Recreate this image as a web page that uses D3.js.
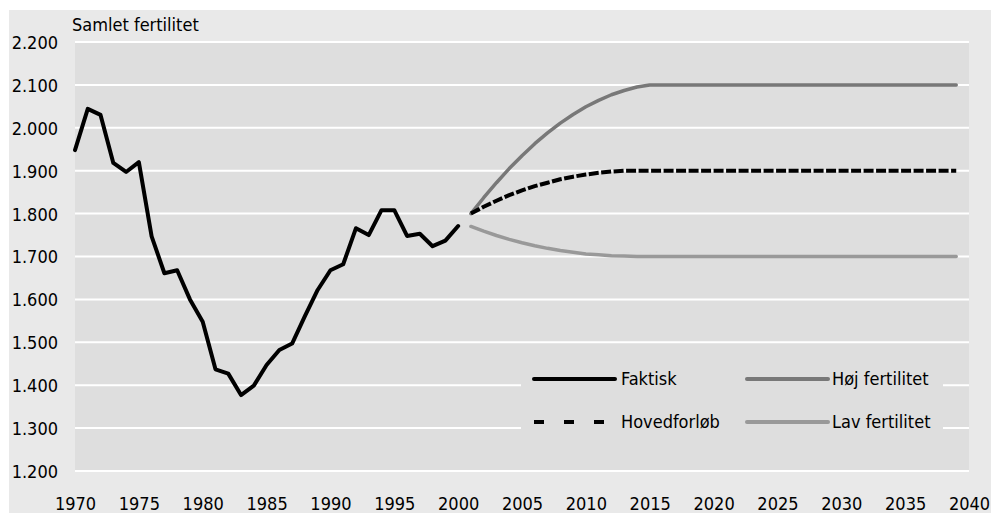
<!DOCTYPE html>
<html>
<head>
<meta charset="utf-8">
<script src="https://cdn.jsdelivr.net/npm/d3@7"></script>
<style>
  html, body { margin: 0; padding: 0; background: #fff; }
  svg { display: block; font-family: "DejaVu Sans Condensed", "Liberation Sans", Arial, sans-serif; }
</style>
</head>
<body>
<div id="chart"></div>
<script>
// Samlet fertilitet, faktisk 1970-2000 og fremskrivninger 2001-2039
const faktiskYears = [1970, 1971, 1972, 1973, 1974, 1975, 1976, 1977, 1978, 1979,
  1980, 1981, 1982, 1983, 1984, 1985, 1986, 1987, 1988, 1989,
  1990, 1991, 1992, 1993, 1994, 1995, 1996, 1997, 1998, 1999, 2000];
const faktiskValues = [1.948, 2.044, 2.030, 1.918, 1.897, 1.920, 1.747, 1.661, 1.668, 1.600,
  1.548, 1.437, 1.427, 1.377, 1.399, 1.447, 1.482, 1.497, 1.561, 1.622,
  1.668, 1.682, 1.766, 1.750, 1.808, 1.808, 1.748, 1.753, 1.724, 1.737, 1.771];

const projYears = [2001, 2002, 2003, 2004, 2005, 2006, 2007, 2008, 2009, 2010,
  2011, 2012, 2013, 2014, 2015, 2039];
const hojValues = [1.800, 1.837, 1.872, 1.905, 1.935, 1.963, 1.988, 2.011, 2.031, 2.049,
  2.064, 2.077, 2.087, 2.095, 2.100, 2.100];
const hovedValues = [1.800, 1.816, 1.830, 1.843, 1.854, 1.864, 1.872, 1.880, 1.886, 1.891,
  1.895, 1.898, 1.900, 1.900, 1.900, 1.900];
const lavValues = [1.770, 1.759, 1.749, 1.740, 1.732, 1.725, 1.719, 1.714, 1.710, 1.706,
  1.704, 1.702, 1.701, 1.700, 1.700, 1.700];

const yTicks = [1.2, 1.3, 1.4, 1.5, 1.6, 1.7, 1.8, 1.9, 2.0, 2.1, 2.2];
const xTicks = [1970, 1975, 1980, 1985, 1990, 1995, 2000, 2005, 2010, 2015, 2020, 2025, 2030, 2035, 2040];

const W = 991, H = 513;
const PLOT = { left: 75, right: 969, top: 42, bottom: 471 };
const FONT = 18;
const FAMILY = '"DejaVu Sans Condensed", "Liberation Sans", Arial, sans-serif';

const svg = d3.select('#chart').append('svg')
  .attr('width', W).attr('height', H);

// outer panel and plot area
svg.append('rect').attr('x', 9).attr('y', 10).attr('width', W - 9).attr('height', H - 10)
  .attr('fill', '#e9e9e9');
svg.append('rect').attr('x', PLOT.left).attr('y', PLOT.top)
  .attr('width', PLOT.right - PLOT.left).attr('height', PLOT.bottom - PLOT.top)
  .attr('fill', '#dedede');

const x = d3.scaleLinear().domain([1970, 2040]).range([PLOT.left, PLOT.right]);
const y = d3.scaleLinear().domain([1.2, 2.2]).range([PLOT.bottom, PLOT.top]);
const fmt = d3.format('.3f');

// gridlines
svg.append('g').selectAll('line').data(yTicks).join('line')
  .attr('x1', PLOT.left).attr('x2', PLOT.right)
  .attr('y1', (d) => y(d)).attr('y2', (d) => y(d))
  .attr('stroke', '#fff').attr('stroke-width', 2);

// y axis
const yAxis = svg.append('g').attr('transform', `translate(${PLOT.left - 17},0)`)
  .call(d3.axisLeft(y).tickValues(yTicks).tickSize(0).tickFormat(fmt));
yAxis.select('.domain').remove();
yAxis.selectAll('text').attr('x', 0).attr('dy', '0.36em')
  .style('font-size', FONT + 'px').style('font-family', FAMILY).attr('fill', '#000');

// x axis
const xAxis = svg.append('g').attr('transform', `translate(0,${PLOT.bottom})`)
  .call(d3.axisBottom(x).tickValues(xTicks).tickSize(0).tickFormat(d3.format('d')));
xAxis.select('.domain').remove();
xAxis.selectAll('text').attr('y', 33).attr('dy', '0.36em')
  .style('font-size', FONT + 'px').style('font-family', FAMILY).attr('fill', '#000');

// title
svg.append('text').attr('x', 72).attr('y', 31)
  .style('font-size', FONT + 'px').text('Samlet fertilitet');

const line = d3.line().x((d) => x(d[0])).y((d) => y(d[1]));
const zip = (xs, vs) => xs.map((yr, i) => [yr, vs[i]]);

const series = [
  { name: 'Faktisk', data: zip(faktiskYears, faktiskValues), color: '#000', width: 4, dash: null, legendDash: null },
  { name: 'Høj fertilitet', data: zip(projYears, hojValues), color: '#787878', width: 3.5, dash: null, legendDash: null },
  { name: 'Hovedforløb', data: zip(projYears, hovedValues), color: '#000', width: 4, dash: '10,2.5', legendDash: '10,20' },
  { name: 'Lav fertilitet', data: zip(projYears, lavValues), color: '#999', width: 3.5, dash: null, legendDash: null }
];

svg.append('g').selectAll('path').data(series).join('path')
  .attr('d', (d) => line(d.data))
  .attr('fill', 'none')
  .attr('stroke', (d) => d.color)
  .attr('stroke-width', (d) => d.width)
  .attr('stroke-linejoin', 'round')
  .attr('stroke-linecap', (d) => (d.dash ? 'butt' : 'round'))
  .attr('stroke-dasharray', (d) => d.dash);

// legend
const legend = svg.append('g');
legend.append('rect').attr('x', 521).attr('y', 358).attr('width', 422).attr('height', 84)
  .attr('fill', '#dedede');
const legendPos = [
  { lx: 534, ty: 379 }, { lx: 747, ty: 379 },
  { lx: 534, ty: 422 }, { lx: 747, ty: 422 }
];
const items = legend.selectAll('g.item').data(series).join('g').attr('class', 'item')
  .attr('transform', (d, i) => `translate(${legendPos[i].lx},${legendPos[i].ty})`);
items.append('line')
  .attr('x1', 0).attr('x2', (d) => (d.legendDash ? 71 : 81))
  .attr('stroke', (d) => d.color)
  .attr('stroke-width', 4)
  .attr('stroke-linecap', (d) => (d.legendDash ? 'butt' : 'round'))
  .attr('stroke-dasharray', (d) => d.legendDash);
items.append('text')
  .attr('x', (d, i) => (i % 2 === 0 ? 87 : 85))
  .attr('dy', '0.36em')
  .style('font-size', FONT + 'px')
  .text((d) => d.name);
</script>
</body>
</html>
